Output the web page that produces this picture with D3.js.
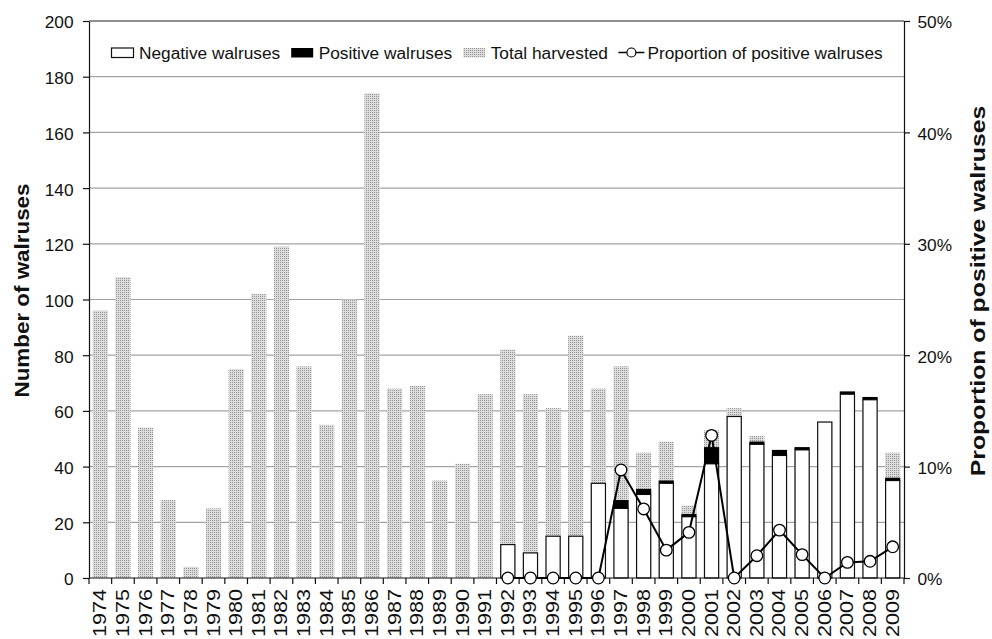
<!DOCTYPE html>
<html>
<head>
<meta charset="utf-8">
<script src="https://cdn.jsdelivr.net/npm/d3@7"></script>
<style>
  html, body { margin: 0; padding: 0; background: #fff; }
  svg { display: block; font-family: "Liberation Sans", Arial, Helvetica, sans-serif; }
</style>
</head>
<body>
<svg id="chart" width="992" height="639"></svg>
<script>
// Harvest years shown on the x axis
const years = [1974, 1975, 1976, 1977, 1978, 1979, 1980, 1981, 1982, 1983, 1984, 1985,
               1986, 1987, 1988, 1989, 1990, 1991, 1992, 1993, 1994, 1995, 1996, 1997,
               1998, 1999, 2000, 2001, 2002, 2003, 2004, 2005, 2006, 2007, 2008, 2009];

// Total walruses harvested each year
const totalHarvested = [96, 108, 54, 28, 4, 25, 75, 102, 119, 76, 55, 100,
                        174, 68, 69, 35, 41, 66, 82, 66, 61, 87, 68, 76,
                        45, 49, 26, 53, 61, 51, 46, 47, 56, 67, 65, 45];

// Years in which the harvested walruses were tested
const testedYears = [1992, 1993, 1994, 1995, 1996, 1997, 1998, 1999, 2000,
                     2001, 2002, 2003, 2004, 2005, 2006, 2007, 2008, 2009];
const negativeWalruses = [12, 9, 15, 15, 34, 25, 30, 34, 22, 41, 58, 48, 44, 46, 56, 66, 64, 35];
const positiveWalruses = [0, 0, 0, 0, 0, 3, 2, 1, 1, 6, 0, 1, 2, 1, 0, 1, 1, 1];
// Proportion of positive walruses, in percent
const proportionPositive = [0, 0, 0, 0, 0, 9.7, 6.2, 2.5, 4.1, 12.8, 0, 2.0, 4.3, 2.1, 0, 1.4, 1.5, 2.8];

// Axis ticks
const countTicks = [0, 20, 40, 60, 80, 100, 120, 140, 160, 180, 200];
const percentTicks = [0, 0.1, 0.2, 0.3, 0.4, 0.5];

const legendItems = ["Negative walruses", "Positive walruses", "Total harvested", "Proportion of positive walruses"];

// ---- layout ----
const plot = { left: 89, right: 904, top: 21, bottom: 578 };
const TXT = 17.3;     // base font size
const svg = d3.select("#chart");

const defs = svg.append("defs");
const pat = defs.append("pattern")
  .attr("id", "stipple").attr("width", 2).attr("height", 2)
  .attr("patternUnits", "userSpaceOnUse");
pat.append("rect").attr("width", 2).attr("height", 2).attr("fill", "#dcdcdc");
pat.append("rect").attr("width", 1).attr("height", 1).attr("fill", "#979797");

const x = d3.scaleBand().domain(years).range([plot.left, plot.right])
  .paddingInner(0.33).paddingOuter(0.165);
const y = d3.scaleLinear().domain([0, 200]).range([plot.bottom, plot.top]);
const yP = d3.scaleLinear().domain([0, 0.5]).range([plot.bottom, plot.top]);

// gridlines
svg.append("g").selectAll("line")
  .data(countTicks.filter(d => d > 0 && d < 200))
  .join("line")
  .attr("x1", plot.left).attr("x2", plot.right)
  .attr("y1", d => y(d)).attr("y2", d => y(d))
  .attr("stroke", "#a3a3a3").attr("stroke-width", 1.2);

// total harvested bars
svg.append("g").selectAll("rect")
  .data(years.map((yr, i) => ({ yr, v: totalHarvested[i] })))
  .join("rect")
  .attr("x", d => x(d.yr)).attr("width", x.bandwidth())
  .attr("y", d => y(d.v)).attr("height", d => y(0) - y(d.v))
  .attr("fill", "url(#stipple)");

// tested walruses: negative stacked under positive
const tested = testedYears.map((yr, i) => ({
  yr, neg: negativeWalruses[i], pos: positiveWalruses[i], p: proportionPositive[i] / 100
}));
const gT = svg.append("g");
gT.selectAll("rect.neg").data(tested).join("rect").attr("class", "neg")
  .attr("x", d => x(d.yr) + 0.5).attr("width", x.bandwidth() - 1)
  .attr("y", d => y(d.neg)).attr("height", d => y(0) - y(d.neg))
  .attr("fill", "#fff").attr("stroke", "#111").attr("stroke-width", 1.2);
gT.selectAll("rect.pos").data(tested.filter(d => d.pos > 0)).join("rect").attr("class", "pos")
  .attr("x", d => x(d.yr)).attr("width", x.bandwidth())
  .attr("y", d => y(d.neg + d.pos)).attr("height", d => y(d.neg) - y(d.neg + d.pos))
  .attr("fill", "#000");

// frame
svg.append("line").attr("x1", plot.left).attr("x2", plot.right)
  .attr("y1", plot.top).attr("y2", plot.top).attr("stroke", "#222").attr("stroke-width", 1.2);

// left axis
const gL = svg.append("g").attr("transform", `translate(${plot.left},0)`)
  .call(d3.axisLeft(y).tickValues(countTicks).tickSize(6).tickPadding(9.5).tickSizeOuter(0));
gL.select(".domain").attr("stroke", "#111").attr("stroke-width", 1.2);
gL.selectAll(".tick line").attr("stroke", "#111").attr("stroke-width", 1.2);
gL.selectAll(".tick text").attr("font-size", TXT).attr("fill", "#111")
  .attr("font-family", null).attr("x", -15.5).attr("dy", "0.4em");

// right axis
const gR = svg.append("g").attr("transform", `translate(${plot.right},0)`)
  .call(d3.axisRight(yP).tickValues(percentTicks).tickFormat(d3.format(".0%"))
    .tickSize(6).tickPadding(7.5).tickSizeOuter(0));
gR.select(".domain").attr("stroke", "#111").attr("stroke-width", 1.2);
gR.selectAll(".tick line").attr("stroke", "#111").attr("stroke-width", 1.2);
gR.selectAll(".tick text").attr("font-size", TXT).attr("fill", "#111")
  .attr("font-family", null).attr("x", 13.5).attr("dy", "0.4em");

// bottom axis: ticks on category boundaries, rotated year labels
const gap = (x.step() - x.bandwidth()) / 2;
const boundaries = years.map(yr => x(yr) - gap).concat([plot.right]);
const gB = svg.append("g");
gB.append("line").attr("x1", plot.left).attr("x2", plot.right)
  .attr("y1", plot.bottom).attr("y2", plot.bottom).attr("stroke", "#111").attr("stroke-width", 1.2);
gB.selectAll("line.tk").data(boundaries).join("line").attr("class", "tk")
  .attr("x1", d => d).attr("x2", d => d)
  .attr("y1", plot.bottom).attr("y2", plot.bottom + 6)
  .attr("stroke", "#111").attr("stroke-width", 1.2);
gB.selectAll("text").data(years).join("text")
  .attr("transform", d => `translate(${x(d) + x.bandwidth() / 2 - 0.5},${plot.bottom + 11}) rotate(-90) scale(1.2,1)`)
  .attr("text-anchor", "end").attr("dy", "0.36em")
  .attr("font-size", 18).attr("fill", "#111")
  .text(d => d);

// proportion line
const line = d3.line().x(d => x(d.yr) + x.bandwidth() / 2).y(d => yP(d.p));
svg.append("path").datum(tested).attr("d", line)
  .attr("fill", "none").attr("stroke", "#000").attr("stroke-width", 2);
svg.append("g").selectAll("circle").data(tested).join("circle")
  .attr("cx", d => x(d.yr) + x.bandwidth() / 2).attr("cy", d => yP(d.p)).attr("r", 5.8)
  .attr("fill", "#fff").attr("stroke", "#000").attr("stroke-width", 1.3);

// axis titles
svg.append("text")
  .attr("transform", `translate(22,290.5) rotate(-90) scale(1.12,1)`)
  .attr("text-anchor", "middle").attr("dy", "0.35em")
  .attr("font-size", 20).attr("font-weight", "bold").attr("fill", "#111")
  .text("Number of walruses");
svg.append("text")
  .attr("transform", `translate(978,291) rotate(-90) scale(1.24,1)`)
  .attr("text-anchor", "middle").attr("dy", "0.35em")
  .attr("font-size", 20).attr("font-weight", "bold").attr("fill", "#111")
  .text("Proportion of positive walruses");

// legend
const lg = svg.append("g");
const ly = 52.5;
let cx = 111;
legendItems.forEach((label, i) => {
  if (i < 3) {
    lg.append("rect").attr("x", cx + 0.5).attr("y", ly - 4.5).attr("width", 22).attr("height", 9.5)
      .attr("fill", i === 0 ? "#fff" : i === 1 ? "#000" : "url(#stipple)")
      .attr("stroke", i === 0 ? "#111" : "none").attr("stroke-width", 1.2);
    cx += 23 + 5;
  } else {
    lg.append("line").attr("x1", cx).attr("x2", cx + 26).attr("y1", ly).attr("y2", ly)
      .attr("stroke", "#000").attr("stroke-width", 1.5);
    lg.append("circle").attr("cx", cx + 13).attr("cy", ly).attr("r", 4.5)
      .attr("fill", "#fff").attr("stroke", "#000").attr("stroke-width", 1.2);
    cx += 26 + 3;
  }
  const t = lg.append("text")
    .attr("x", cx).attr("y", ly)
    .attr("dy", "0.36em").attr("font-size", TXT).attr("fill", "#111")
    .text(label);
  cx += t.node().getComputedTextLength() + 10.5;
});
</script>
</body>
</html>
